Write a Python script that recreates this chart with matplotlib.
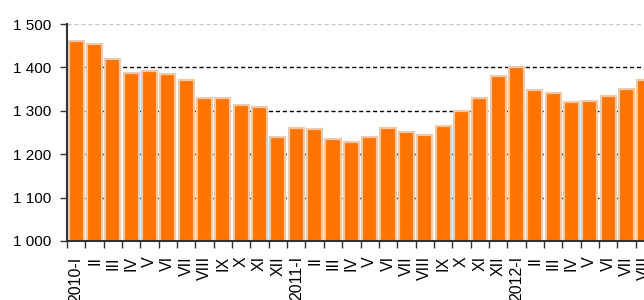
import matplotlib.pyplot as plt
import numpy as np

plt.rcParams['font.family'] = ['Liberation Sans', 'DejaVu Sans']

labels = ["2010-I", "II", "III", "IV", "V", "VI", "VII", "VIII", "IX", "X", "XI", "XII",
          "2011-I", "II", "III", "IV", "V", "VI", "VII", "VIII", "IX", "X", "XI", "XII",
          "2012-I", "II", "III", "IV", "V", "VI", "VII", "VIII"]
values = [1460, 1453, 1419, 1387, 1391, 1385, 1370, 1329, 1329, 1313, 1308, 1240,
          1261, 1258, 1235, 1228, 1240, 1261, 1251, 1245, 1265, 1300, 1329, 1380,
          1400, 1348, 1340, 1320, 1323, 1334, 1350, 1371]

fig = plt.figure(figsize=(6.44, 3.00), dpi=100)
ax = fig.add_axes([67 / 644, 59 / 300, 587 / 644, 217 / 300])

x = np.arange(len(values))

for y in [1100, 1200, 1300, 1400]:
    ax.axhline(y, color="black", linestyle=(0, (3, 2)), linewidth=1, zorder=1)
ax.axhline(1500, color="#c8c8c8", linestyle=(0, (3, 2)), linewidth=1, zorder=1)

ax.bar(x, values, width=0.82, color="#ff7300", edgecolor="#f2c9a8",
       linewidth=1.6, zorder=2)

ax.set_xlim(-0.5, len(values) - 0.5)
ax.set_ylim(1000, 1500)
ax.set_yticks([1000, 1100, 1200, 1300, 1400, 1500])
ax.set_yticklabels(["1 000", "1 100", "1 200", "1 300", "1 400", "1 500"], fontsize=11)

ax.set_xticks(x)
ax.set_xticklabels(labels, rotation=90, fontsize=11.5)
ax.set_xticks(np.arange(len(values) + 1) - 0.5, minor=True)
ax.tick_params(axis="x", which="major", length=0, pad=11)
ax.tick_params(axis="x", which="minor", length=5, width=1, color="#333333", direction="out")
ax.tick_params(axis="y", length=5, width=1, color="#333333", direction="out", pad=6)

for s in ["top", "right"]:
    ax.spines[s].set_visible(False)
for s in ["left", "bottom"]:
    ax.spines[s].set_color("#333333")
    ax.spines[s].set_linewidth(1.5)
    ax.spines[s].set_zorder(3)

fig.savefig("out.png", dpi=100)
